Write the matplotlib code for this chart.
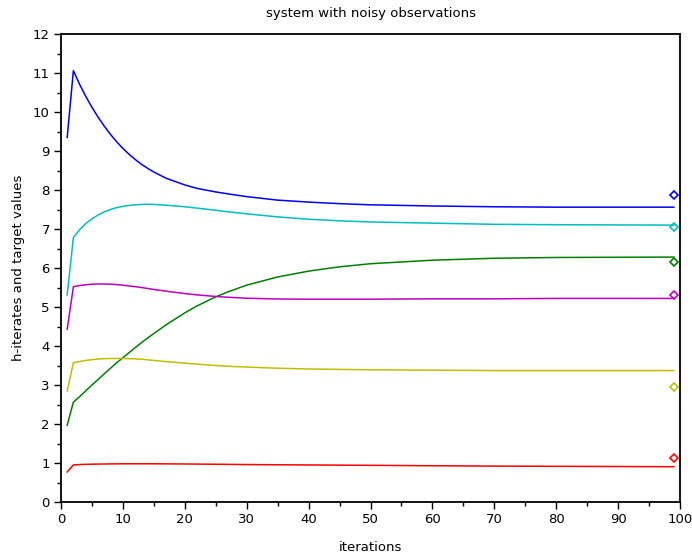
import matplotlib
matplotlib.use("Agg")
import matplotlib.pyplot as plt
from matplotlib.ticker import MultipleLocator

iterations = [1, 2, 3, 4, 5, 6, 7, 8, 9, 10, 11, 12, 13, 14, 15, 17, 20, 22, 25, 27,
              30, 35, 40, 45, 50, 60, 70, 80, 99]

blue = [9.35, 11.06, 10.71, 10.40, 10.12, 9.865, 9.635, 9.425, 9.235, 9.065, 8.915,
        8.78, 8.66, 8.555, 8.46, 8.30, 8.13, 8.04, 7.95, 7.90, 7.83, 7.74, 7.69, 7.65,
        7.62, 7.59, 7.57, 7.56, 7.56]
cyan = [5.31, 6.78, 6.98, 7.14, 7.26, 7.36, 7.44, 7.50, 7.55, 7.58, 7.605, 7.62,
        7.63, 7.635, 7.63, 7.61, 7.57, 7.535, 7.48, 7.44, 7.39, 7.31, 7.25, 7.21, 7.18,
        7.15, 7.12, 7.11, 7.10]
green = [1.97, 2.56, 2.70, 2.85, 3.00, 3.14, 3.29, 3.43, 3.57, 3.70, 3.83, 3.96,
         4.085, 4.205, 4.32, 4.545, 4.85, 5.03, 5.26, 5.39, 5.56, 5.77, 5.92, 6.03,
         6.11, 6.20, 6.25, 6.27, 6.28]
magenta = [4.43, 5.52, 5.55, 5.57, 5.585, 5.59, 5.59, 5.585, 5.575, 5.56, 5.54, 5.52,
           5.50, 5.475, 5.45, 5.405, 5.345, 5.31, 5.27, 5.25, 5.225, 5.205, 5.20, 5.20,
           5.20, 5.21, 5.21, 5.22, 5.22]
yellow = [2.85, 3.57, 3.60, 3.63, 3.65, 3.665, 3.675, 3.68, 3.68, 3.68, 3.675, 3.67,
          3.66, 3.645, 3.63, 3.60, 3.56, 3.535, 3.50, 3.48, 3.46, 3.43, 3.41, 3.40,
          3.39, 3.38, 3.37, 3.37, 3.37]
red = [0.77, 0.95, 0.96, 0.965, 0.97, 0.972, 0.975, 0.977, 0.978, 0.98, 0.98, 0.98,
       0.98, 0.98, 0.98, 0.978, 0.975, 0.972, 0.968, 0.965, 0.96, 0.955, 0.95, 0.945,
       0.94, 0.93, 0.92, 0.915, 0.905]

target_x = 99
targets = {"blue": 7.87, "cyan": 7.04, "green": 6.16, "magenta": 5.31, "yellow": 2.94, "red": 1.12}

colors = {"blue": "#0000ff", "cyan": "#00bfbf", "green": "#008000",
          "magenta": "#bf00bf", "yellow": "#bfbf00", "red": "#ff0000"}
series = {"blue": blue, "cyan": cyan, "green": green, "magenta": magenta,
          "yellow": yellow, "red": red}

plt.rcParams['font.family'] = ['DejaVu Sans']
fig = plt.figure(figsize=(6.92, 5.6), dpi=100)
ax = fig.add_axes([61/692, 1-502/560, (680-61)/692, (502-34)/560])

for name, vals in series.items():
    ax.plot(iterations, vals, color=colors[name], lw=1.1)
    ax.plot([target_x], [targets[name]], marker='D', ms=4.5, mfc='none',
            mec=colors[name], mew=1.2, ls='none')

ax.set_xlim(0, 100)
ax.set_ylim(0, 12)
ax.xaxis.set_major_locator(MultipleLocator(10))
ax.xaxis.set_minor_locator(MultipleLocator(5))
ax.yaxis.set_major_locator(MultipleLocator(1))
ax.yaxis.set_minor_locator(MultipleLocator(0.5))
ax.tick_params(which='major', direction='out', length=5, width=1, labelsize=9.5, pad=3)
ax.tick_params(which='minor', direction='out', length=3, width=1)
for s in ax.spines.values():
    s.set_linewidth(1.3)

ax.set_title("system with noisy observations", fontsize=9.5, pad=12)
ax.set_xlabel("iterations", fontsize=9.5, labelpad=11)
ax.set_ylabel("h-iterates and target values", fontsize=9.5, labelpad=6)

fig.savefig("out.png", dpi=100)
